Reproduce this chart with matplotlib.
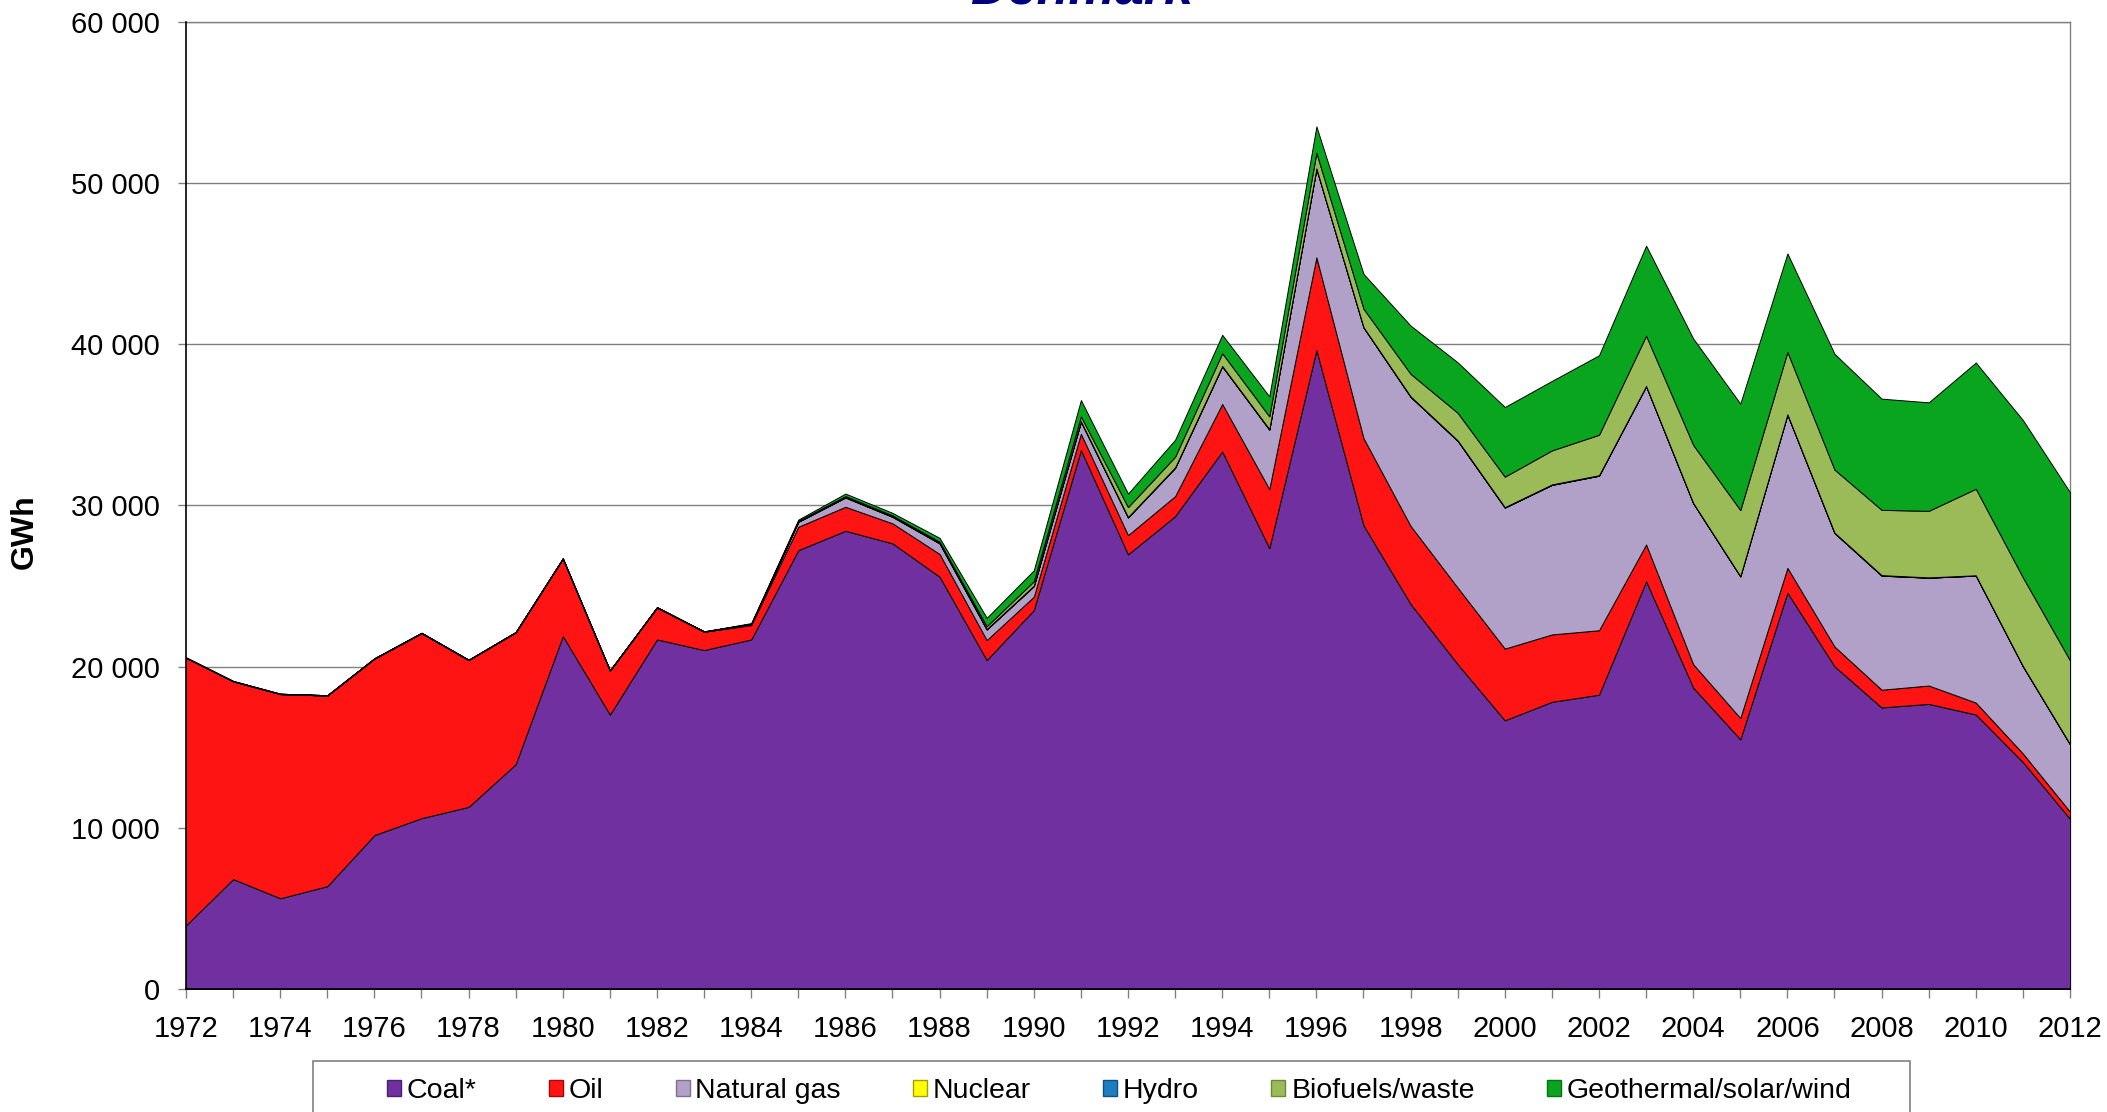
import matplotlib
matplotlib.use("Agg")
import matplotlib.pyplot as plt
from matplotlib.patches import Patch, Rectangle
from matplotlib.ticker import FuncFormatter, MultipleLocator

plt.rcParams['font.family'] = ['Liberation Sans', 'DejaVu Sans']

years = list(range(1972, 2013))

coal = [3950, 6820, 5630, 6380, 9550, 10600, 11300, 13950, 21900, 17030,
        21690, 21030, 21690, 27230, 28430, 27650, 25580, 20410, 23510, 33440,
        26970, 29340, 33350, 27360, 39640, 28770, 23890, 20150, 16670, 17820,
        18260, 25300, 18700, 15490, 24590, 20020, 17470, 17690, 17030, 14080,
        10560]
oil = [16600, 12270, 12670, 11830, 10950, 11480, 9110, 8180, 4800, 2720,
       1980, 1140, 890, 1450, 1490, 1240, 1410, 1240, 830, 1010,
       1190, 1240, 2950, 3660, 5760, 5410, 4840, 4750, 4450, 4180,
       4000, 2280, 1450, 1320, 1540, 1230, 1100, 1140, 740, 530,
       440]
natural_gas = [0, 0, 0, 0, 0, 0, 0, 0, 0, 0,
               0, 0, 40, 310, 580, 410, 660, 660, 660, 750,
               1100, 1760, 2330, 3690, 5500, 6870, 8010, 9110, 8750, 9280,
               9590, 9820, 9990, 8790, 9510, 7040, 7080, 6690, 7880, 5410,
               4180]
nuclear = [0] * 41
hydro = [20, 20, 20, 20, 20, 20, 20, 20, 20, 20,
         20, 20, 25, 25, 30, 30, 30, 30, 30, 30,
         30, 30, 30, 30, 20, 20, 30, 30, 30, 30,
         30, 20, 20, 20, 20, 30, 30, 20, 20, 20,
         20]
biofuels = [0, 0, 0, 0, 0, 0, 0, 0, 0, 0,
            0, 0, 20, 30, 50, 50, 70, 170, 270, 300,
            610, 660, 790, 790, 970, 1140, 1400, 1710, 1890, 2110,
            2510, 3120, 3600, 4100, 3870, 3910, 4050, 4130, 5370, 5500,
            5190]
geo_solar_wind = [0, 0, 0, 0, 0, 0, 0, 0, 0, 0,
                  0, 0, 40, 80, 160, 160, 240, 520, 680, 1010,
                  840, 1050, 1140, 1240, 1630, 2160, 2990, 3130, 4320, 4310,
                  4930, 5580, 6600, 6600, 6110, 7180, 6900, 6730, 7830, 9760,
                  10430]

labels = ["Coal*", "Oil", "Natural gas", "Nuclear", "Hydro",
          "Biofuels/waste", "Geothermal/solar/wind"]
colors = ["#7030A0", "#FF1414", "#B1A0C7", "#FFFF00", "#1F7EC2",
          "#9BBB59", "#0AA51E"]
edge_colors = ["#4A2070", "#B00000", "#7F7090", "#A0A000", "#105080",
               "#6A8A3A", "#067014"]

W, H = 2107, 1112
fig = plt.figure(figsize=(W / 100, H / 100), dpi=100)
ax = fig.add_axes([186 / W, 1 - 989 / H, (2070 - 186) / W, (989 - 22) / H])

ax.stackplot(years, coal, oil, natural_gas, nuclear, hydro, biofuels,
             geo_solar_wind, colors=colors, edgecolor="black",
             linewidth=0.7, zorder=3)

ax.set_xlim(1972, 2012)
ax.set_ylim(0, 60000)
ax.yaxis.set_major_locator(MultipleLocator(10000))
ax.yaxis.set_major_formatter(FuncFormatter(lambda v, p: f"{int(v):,}".replace(",", " ")))
ax.xaxis.set_major_locator(MultipleLocator(2))
ax.xaxis.set_minor_locator(MultipleLocator(1))
ax.xaxis.set_major_formatter(FuncFormatter(lambda v, p: f"{int(v)}"))

ax.grid(axis="y", color="#808080", linewidth=1.0, zorder=0)
ax.set_axisbelow(True)

ax.tick_params(axis="y", which="major", direction="out", length=5.8,
               width=1, color="#808080", labelsize=21, pad=13)
ax.tick_params(axis="x", which="both", direction="out", length=6.5,
               width=1, color="#808080", labelsize=21, pad=12)

for side in ["left", "bottom"]:
    ax.spines[side].set_color("black")
    ax.spines[side].set_linewidth(1.2)
    ax.spines[side].set_zorder(5)
for side in ["top", "right"]:
    ax.spines[side].set_color("#808080")
    ax.spines[side].set_linewidth(1.0)

fig.text(25 / W, 1 - 532 / H, "GWh", rotation=90, ha="center", va="center",
         fontsize=23, fontweight="bold")

fig.text((970 + 1193) / 2 / W, 1 - 4 / H, "Denmark", ha="center",
         va="baseline", fontsize=37.5, fontweight="bold", style="italic",
         color="#000080")

# legend frame
fig.patches.append(Rectangle((313 / W, -0.05), (1910 - 313) / W,
                             0.05 + (1 - 1061 / H), transform=fig.transFigure,
                             facecolor="white", edgecolor="#808080",
                             linewidth=1.2, zorder=0))

handles = [Patch(facecolor=c, edgecolor=e, linewidth=1.0)
           for c, e in zip(colors, edge_colors)]
fig.legend(handles, labels, loc="center left",
           bbox_to_anchor=(387 / W, 1 - 1091 / H), ncol=7, frameon=False,
           fontsize=20.5, handlelength=0.5, handleheight=0.5,
           handletextpad=0.2, columnspacing=2.53, borderpad=0,
           borderaxespad=0)

fig.savefig("out.png", dpi=100)
